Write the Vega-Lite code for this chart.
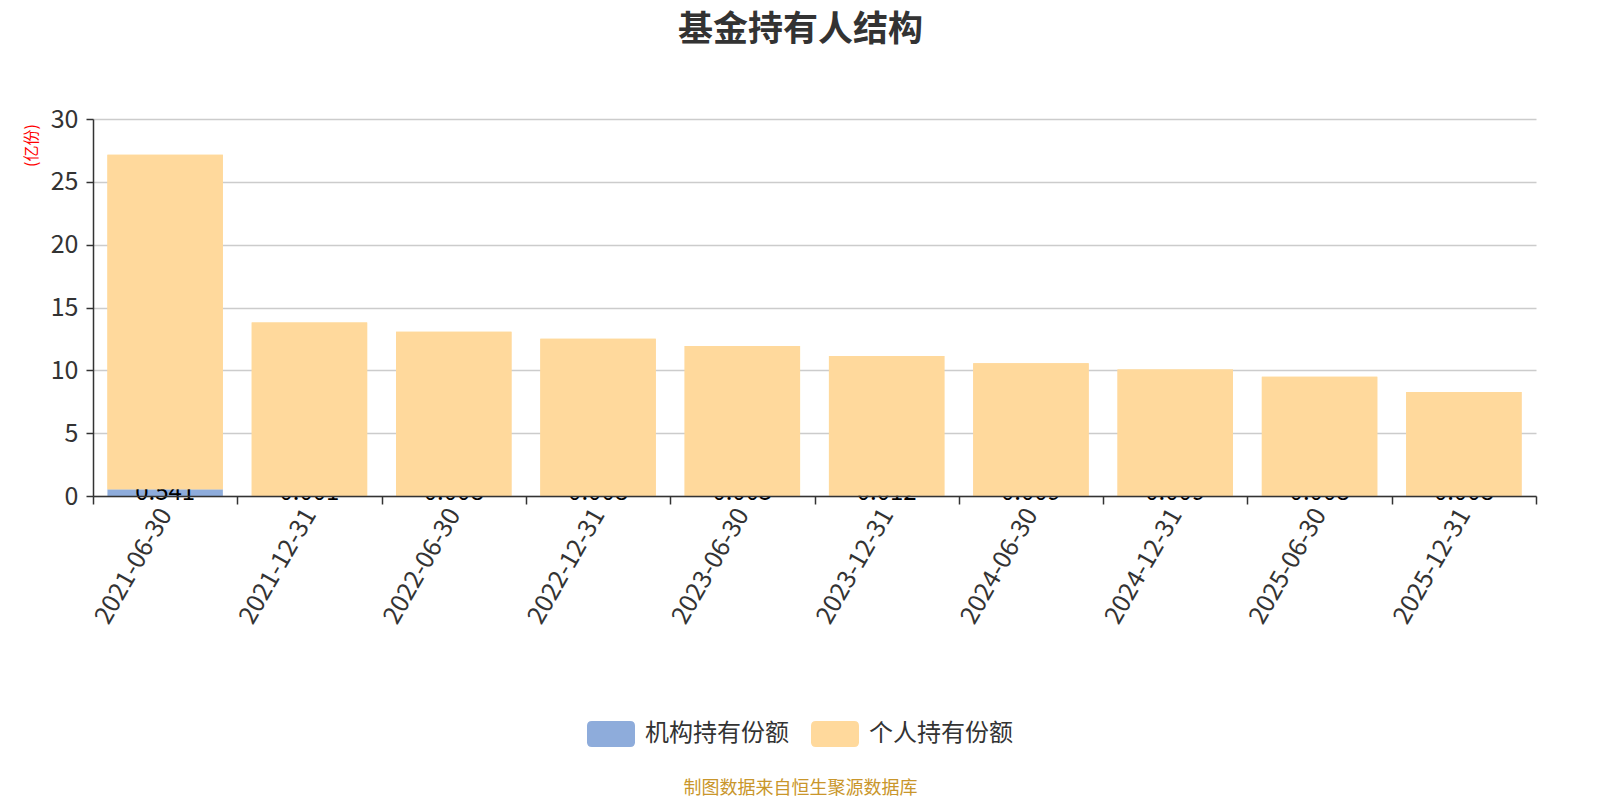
{
  "$schema": "https://vega.github.io/schema/vega-lite/v6.json",
  "width": 1443,
  "height": 377,
  "autosize": "none",
  "padding": {"left": 93, "top": 119, "right": 64, "bottom": 304},
  "background": "white",
  "config": {"font": "Noto Sans CJK SC", "view": {"stroke": null}},
  "title": {"text": "基金持有人结构", "fontSize": 35, "fontWeight": "bold", "color": "#333333", "anchor": "middle", "frame": "group", "offset": 59, "dx": -14},
  "data": {
    "values": [
      {"date": "2021-06-30", "type": "机构持有份额", "value": 0.541},
      {"date": "2021-12-31", "type": "机构持有份额", "value": 0.001},
      {"date": "2022-06-30", "type": "机构持有份额", "value": 0.008},
      {"date": "2022-12-31", "type": "机构持有份额", "value": 0.008},
      {"date": "2023-06-30", "type": "机构持有份额", "value": 0.005},
      {"date": "2023-12-31", "type": "机构持有份额", "value": 0.012},
      {"date": "2024-06-30", "type": "机构持有份额", "value": 0.009},
      {"date": "2024-12-31", "type": "机构持有份额", "value": 0.009},
      {"date": "2025-06-30", "type": "机构持有份额", "value": 0.008},
      {"date": "2025-12-31", "type": "机构持有份额", "value": 0.008},
      {"date": "2021-06-30", "type": "个人持有份额", "value": 26.61},
      {"date": "2021-12-31", "type": "个人持有份额", "value": 13.80},
      {"date": "2022-06-30", "type": "个人持有份额", "value": 13.06},
      {"date": "2022-12-31", "type": "个人持有份额", "value": 12.50},
      {"date": "2023-06-30", "type": "个人持有份额", "value": 11.94},
      {"date": "2023-12-31", "type": "个人持有份额", "value": 11.12},
      {"date": "2024-06-30", "type": "个人持有份额", "value": 10.55},
      {"date": "2024-12-31", "type": "个人持有份额", "value": 10.06},
      {"date": "2025-06-30", "type": "个人持有份额", "value": 9.49},
      {"date": "2025-12-31", "type": "个人持有份额", "value": 8.27}
    ]
  },
  "encoding": {
    "x": {
      "field": "date",
      "type": "nominal",
      "sort": null,
      "scale": {"paddingInner": 0, "paddingOuter": 0},
      "axis": {
        "title": "制图数据来自恒生聚源数据库",
        "titleColor": "#c9962b",
        "titleFontSize": 18,
        "titleFontWeight": "normal",
        "titleX": 707,
        "titleY": 292,
        "titleAlign": "center",
        "titleBaseline": "middle",
        "titleAnchor": null,
        "labelAngle": -60,
        "labelAlign": "right",
        "labelBaseline": "middle",
        "labelFontSize": 25,
        "labelColor": "#333333",
        "labelPadding": 6,
        "tickBand": "extent",
        "tickSize": 8,
        "tickColor": "#333333",
        "tickWidth": 1.5,
        "domainColor": "#333333",
        "domainWidth": 1.5,
        "zindex": 1
      }
    }
  },
  "layer": [
    {
      "mark": {"type": "bar", "width": {"band": 0.8}},
      "encoding": {
        "y": {
          "field": "value",
          "type": "quantitative",
          "stack": "zero",
          "scale": {"domain": [0, 30], "nice": false},
          "axis": {
            "title": "(亿份)",
            "titleColor": "red",
            "titleFontSize": 16,
            "titleFontWeight": "normal",
            "titleAngle": -90,
            "titleX": -62,
            "titleY": 26,
            "titleAlign": "center",
            "titleBaseline": "middle",
            "values": [0, 5, 10, 15, 20, 25, 30],
            "labelFontSize": 25,
            "labelColor": "#333333",
            "labelPadding": 8,
            "tickSize": 7,
            "tickColor": "#333333",
            "tickWidth": 1.5,
            "domainColor": "#333333",
            "domainWidth": 1.5,
            "gridColor": "#cccccc",
            "gridWidth": 1.3,
            "zindex": 0
          }
        },
        "order": {"field": "type", "sort": "descending"},
        "color": {
          "field": "type",
          "type": "nominal",
          "scale": {"domain": ["机构持有份额", "个人持有份额"], "range": ["#8eacdb", "#ffd99c"]},
          "legend": {
            "orient": "none",
            "legendX": 494,
            "legendY": 591,
            "direction": "horizontal",
            "title": null,
            "symbolType": "M -0.8 -0.54 L 0.8 -0.54 Q 1 -0.54 1 -0.34 L 1 0.34 Q 1 0.54 0.8 0.54 L -0.8 0.54 Q -1 0.54 -1 0.34 L -1 -0.34 Q -1 -0.54 -0.8 -0.54 Z",
            "symbolSize": 2304,
            "symbolStrokeWidth": 0,
            "symbolOpacity": 1,
            "labelFontSize": 24,
            "labelColor": "#333333",
            "labelOffset": 10,
            "columnPadding": 22
          }
        }
      }
    },
    {
      "transform": [{"filter": "datum.type === '机构持有份额'"}],
      "mark": {"type": "text", "fontSize": 24, "color": "#000000", "baseline": "middle", "dy": -3},
      "encoding": {
        "y": {"datum": 0, "type": "quantitative"},
        "text": {"field": "value", "type": "quantitative", "format": ".3f"}
      }
    },
    {
      "mark": {"type": "bar", "width": {"band": 0.8}},
      "encoding": {
        "y": {"field": "value", "type": "quantitative", "stack": "zero"},
        "order": {"field": "type", "sort": "descending"},
        "color": {"field": "type", "type": "nominal"},
        "fillOpacity": {"condition": {"test": "datum.type === '机构持有份额'", "value": 0}, "value": 1}
      }
    }
  ]
}
